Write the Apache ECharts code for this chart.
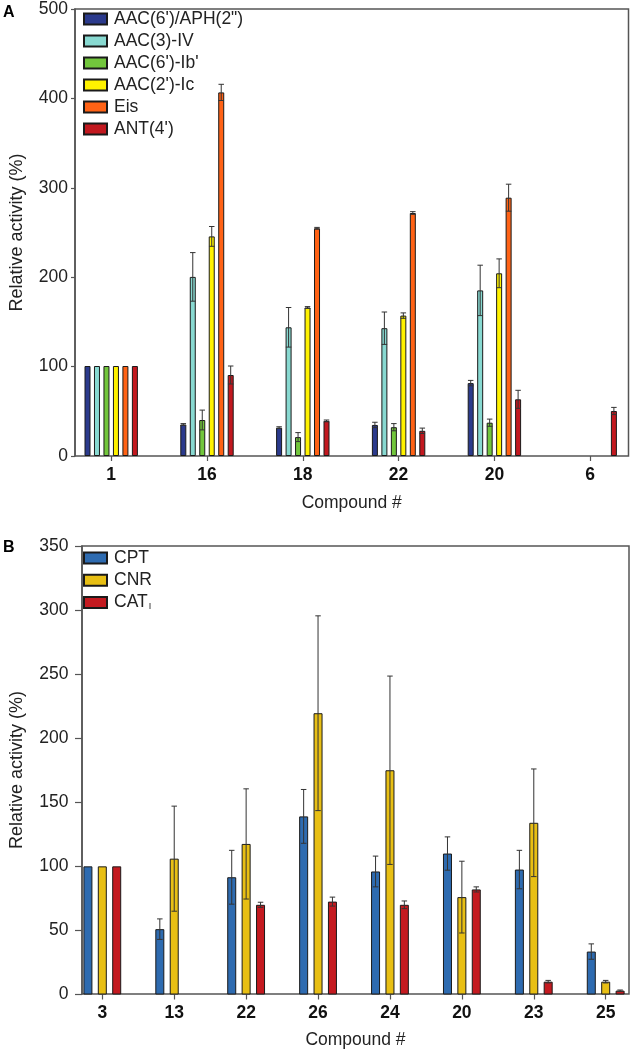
<!DOCTYPE html>
<html>
<head>
<meta charset="utf-8">
<script src="https://cdn.jsdelivr.net/npm/echarts@6/dist/echarts.min.js"></script>
<style>
html,body{margin:0;padding:0;background:#fff;overflow:hidden;width:630px;height:1050px;}
#chart{width:680px;height:1050px;}
</style>
</head>
<body>
<div id="chart"></div>
<script>
// ---------- Panel A data ----------
const catsA = ['1', '16', '18', '22', '20', '6'];
const namesA = ['AAC(6\')/APH(2")', 'AAC(3)-IV', 'AAC(6\')-Ib\'', 'AAC(2\')-Ic', 'Eis', 'ANT(4\')'];
const aacAph   = [100, 35, 31.5, 34.5, 81, null];
const aacAphE  = [0, 1, 1, 3, 3, null];
const aac3     = [100, 199, 143, 142, 184, null];
const aac3E    = [0, 27, 22, 18, 28, null];
const aac6Ib   = [100, 40, 21, 32, 37, null];
const aac6IbE  = [0, 11, 5, 4, 4, null];
const aac2Ic   = [100, 244, 165, 156, 203, null];
const aac2IcE  = [0, 11, 1, 3, 16, null];
const eis      = [100, 404, 253, 270, 287, null];
const eisE     = [0, 9, 1, 1.5, 15, null];
const ant4     = [100, 90, 39, 28, 63, 50];
const ant4E    = [0, 10, 1, 3, 10, 4];
const yTicksA  = [0, 500, 100];

// ---------- Panel B data ----------
const catsB = ['3', '13', '22', '26', '24', '20', '23', '25'];
const namesB = ['CPT', 'CNR', 'CATI'];
const cpt   = [100, 51, 91.5, 139, 96, 110, 97.5, 33.5];
const cptE  = [0, 8, 21, 21, 12, 13, 15, 6];
const cnr   = [100, 106, 117.5, 219.5, 175, 76, 134, 10];
const cnrE  = [0, 41, 43, 76, 73.5, 28, 42, 1];
const catI  = [100, null, 70, 72.5, 70, 82, 10, 3];
const catIE = [0, null, 2, 3.5, 3, 2, 1, 0.5];
const yTicksB = [0, 350, 50];

const colorsA = ['#2b3a8c', '#88d9d1', '#72c63c', '#fff200', '#ff6215', '#c2181f'];
const colorsB = ['#2e6bb0', '#e8bf14', '#c41a20'];

const FONT = "'Liberation Sans', Arial, sans-serif";
const AXC = '#555';
const BW_A = 6, GAP_A = 0.58;
const BW_B = 9, GAP_B = 0.60;

function errRender(k, n, step, cap) {
  return function (params, api) {
    const e = api.value(2);
    if (!e) return null;
    const i = api.value(0), v = api.value(1);
    const hi = api.coord([i, v + e]);
    const lo = api.coord([i, v - e]);
    const x = hi[0] + (k - (n - 1) / 2) * step;
    const st = { stroke: '#333', lineWidth: 1 };
    return {
      type: 'group',
      children: [
        { type: 'line', shape: { x1: x, y1: hi[1], x2: x, y2: lo[1] }, style: st },
        { type: 'line', shape: { x1: x - cap / 2, y1: hi[1], x2: x + cap / 2, y2: hi[1] }, style: st },
        { type: 'line', shape: { x1: x - cap / 2, y1: lo[1], x2: x + cap / 2, y2: lo[1] }, style: st }
      ]
    };
  };
}

function buildSeries(names, vals, errs, colors, gridIdx, bw, gap) {
  const out = [];
  const n = names.length;
  names.forEach((nm, k) => {
    out.push({
      type: 'bar', name: nm, xAxisIndex: gridIdx, yAxisIndex: gridIdx,
      data: vals[k], barWidth: bw, barGap: (gap * 100) + '%',
      itemStyle: { color: colors[k], borderColor: '#1a1a1a', borderWidth: 1 },
      emphasis: { disabled: true }, z: 2
    });
  });
  names.forEach((nm, k) => {
    const d = [];
    vals[k].forEach((v, i) => { if (v != null) d.push([i, v, errs[k][i] || 0]); });
    out.push({
      type: 'custom', xAxisIndex: gridIdx, yAxisIndex: gridIdx,
      renderItem: errRender(k, n, bw * (1 + gap), 5.5),
      data: d, encode: { x: 0, y: 1 }, z: 5, silent: true
    });
  });
  return out;
}

const valsA = [aacAph, aac3, aac6Ib, aac2Ic, eis, ant4];
const errsA = [aacAphE, aac3E, aac6IbE, aac2IcE, eisE, ant4E];
const valsB = [cpt, cnr, catI];
const errsB = [cptE, cnrE, catIE];

const tickLabel = { fontFamily: FONT, fontSize: 17.5, color: '#222' };
const catLabel = { fontFamily: FONT, fontSize: 17.5, fontWeight: 'bold', color: '#111' };

const option = {
  animation: false,
  backgroundColor: '#fff',
  title: [
    { text: 'A', left: -2, top: 0, textStyle: { fontFamily: FONT, fontSize: 16, fontWeight: 'bold', color: '#000' } },
    { text: 'B', left: -2, top: 535, textStyle: { fontFamily: FONT, fontSize: 16, fontWeight: 'bold', color: '#000' } }
  ],
  legend: [
    {
      data: namesA, orient: 'vertical', left: 78, top: 5, itemWidth: 23, itemHeight: 11, itemGap: 4,
      icon: 'rect', selectedMode: false,
      textStyle: { fontFamily: FONT, fontSize: 17.5, lineHeight: 17, color: '#222', padding: [0, 0, 0, 2] }
    },
    {
      data: namesB, orient: 'vertical', left: 78, top: 538, itemWidth: 23, itemHeight: 11, itemGap: -7.7,
      icon: 'rect', selectedMode: false,
      formatter: function (nm) { return nm === 'CATI' ? '{m|CAT}{s|I}' : '{m|' + nm + '}{s| }'; },
      textStyle: {
        fontFamily: FONT, fontSize: 17.5, lineHeight: 17, color: '#222', padding: [0, 0, 0, 2],
        rich: {
          m: { fontFamily: FONT, fontSize: 17.5, lineHeight: 17, color: '#222', padding: [6, 0, 6, 0] },
          s: { fontFamily: FONT, fontSize: 9, lineHeight: 9, color: '#222', verticalAlign: 'bottom', padding: [0, 0, 0, 1] }
        }
      }
    }
  ],
  grid: [
    { left: 63.3, top: 6, width: 574.8, height: 450 },
    { left: 70, top: 6, width: 558.5, height: 450, show: true, borderColor: AXC, borderWidth: 1.5, backgroundColor: 'transparent' },
    { left: 66.35, top: 546, width: 575.3, height: 448.5 },
    { left: 76, top: 546, width: 553, height: 448.5, show: true, borderColor: AXC, borderWidth: 1.5, backgroundColor: 'transparent' }
  ],
  xAxis: [
    {
      gridIndex: 0, type: 'category', data: catsA,
      axisLine: { show: false },
      axisTick: { show: true, alignWithLabel: true, length: 5, lineStyle: { color: AXC, width: 1.2 } },
      axisLabel: Object.assign({ margin: 10 }, catLabel)
    },
    {
      gridIndex: 1, type: 'value', min: 0, max: 1,
      axisLine: { show: false }, axisTick: { show: false }, axisLabel: { show: false }, splitLine: { show: false },
      name: 'Compound #', nameLocation: 'middle', nameGap: 38,
      nameTextStyle: { fontFamily: FONT, fontSize: 17.5, color: '#222' }
    },
    {
      gridIndex: 2, type: 'category', data: catsB,
      axisLine: { show: false },
      axisTick: { show: true, alignWithLabel: true, length: 5, lineStyle: { color: AXC, width: 1.2 } },
      axisLabel: Object.assign({ margin: 9.5 }, catLabel)
    },
    {
      gridIndex: 3, type: 'value', min: 0, max: 1,
      axisLine: { show: false }, axisTick: { show: false }, axisLabel: { show: false }, splitLine: { show: false },
      name: 'Compound #', nameLocation: 'middle', nameGap: 37,
      nameTextStyle: { fontFamily: FONT, fontSize: 17.5, color: '#222' }
    }
  ],
  yAxis: [
    { gridIndex: 0, type: 'value', min: yTicksA[0], max: yTicksA[1], interval: yTicksA[2], show: false, splitLine: { show: false } },
    {
      gridIndex: 1, type: 'value', min: yTicksA[0], max: yTicksA[1], interval: yTicksA[2],
      axisLine: { show: true, lineStyle: { color: AXC, width: 1.5 } },
      axisTick: { show: true, length: 4, lineStyle: { color: AXC, width: 1.2 } },
      axisLabel: Object.assign({ margin: 7 }, tickLabel),
      splitLine: { show: false },
      name: 'Relative activity (%)', nameLocation: 'middle', nameGap: 49, nameRotate: 90,
      nameTextStyle: { fontFamily: FONT, fontSize: 18, color: '#222' }
    },
    { gridIndex: 2, type: 'value', min: yTicksB[0], max: yTicksB[1], interval: yTicksB[2], show: false, splitLine: { show: false } },
    {
      gridIndex: 3, type: 'value', min: yTicksB[0], max: yTicksB[1], interval: yTicksB[2],
      axisLine: { show: true, lineStyle: { color: AXC, width: 1.5 } },
      axisTick: { show: true, length: 7, lineStyle: { color: AXC, width: 1.2 } },
      axisLabel: Object.assign({ margin: 13.5 }, tickLabel),
      splitLine: { show: false },
      name: 'Relative activity (%)', nameLocation: 'middle', nameGap: 56, nameRotate: 90,
      nameTextStyle: { fontFamily: FONT, fontSize: 18, color: '#222' }
    }
  ],
  series: [].concat(
    buildSeries(namesA, valsA, errsA, colorsA, 0, BW_A, GAP_A),
    buildSeries(namesB, valsB, errsB, colorsB, 2, BW_B, GAP_B)
  )
};

const chart = echarts.init(document.getElementById('chart'), null, { renderer: 'canvas' });
chart.setOption(option);
</script>
</body>
</html>
